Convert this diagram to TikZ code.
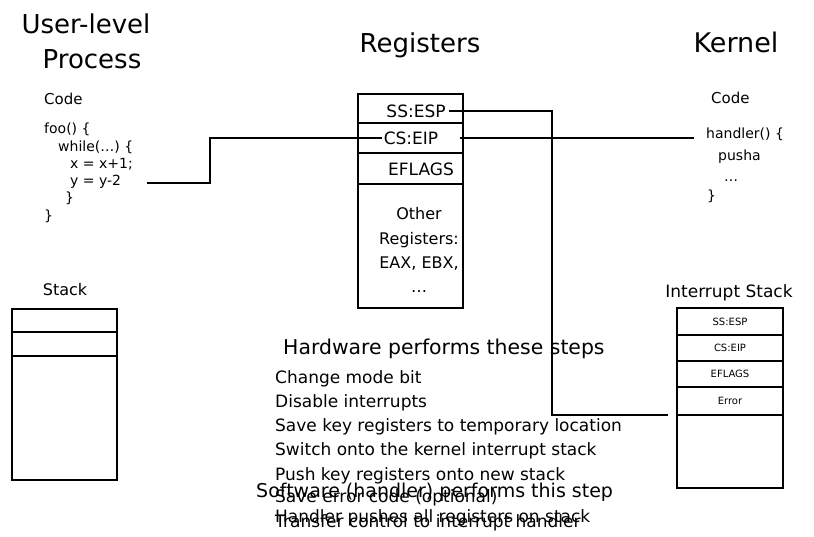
\documentclass[tikz,border=0pt]{standalone}
\usepackage{fontspec}
\setmainfont{DejaVu Sans}
\usetikzlibrary{calc}
\begin{document}
\begin{tikzpicture}[x=1pt,y=-1pt,
  fs/.style={font=\fontsize{#1}{#1}\selectfont},
  lt/.style={anchor=base west, inner sep=0pt, fs=#1},
  ct/.style={anchor=base, inner sep=0pt, fs=#1},
  cell/.style={draw, line width=2pt, inner sep=0pt, outer sep=0pt, anchor=north west},
  wire/.style={line width=1.6pt},
]
\useasboundingbox (0,0) rectangle (814,536);

% titles
\node[ct=26] (t1) at (86,33) {User-level};
\node[ct=26] (t2) at (92,68) {Process};
\node[ct=26] (t3) at (420,52) {Registers};
\node[ct=27] (t4) at (736,52) {Kernel};

% user code
\node[lt=15] (uc) at (44,104) {Code};
\node[lt=14] (u1) at (44,133) {foo() \{};
\node[lt=14] (u2) at (58,151) {while(…) \{};
\node[lt=14] (u3) at (70,168) {x = x+1;};
\node[lt=14] (u4) at (70,185) {y = y-2};
\node[lt=14] (u5) at (65,202) {\}};
\node[lt=14] (u6) at (44,220) {\}};
\coordinate (ustart) at (147,183);

% kernel code
\node[lt=15] (kc) at (711,103) {Code};
\node[lt=14] (kh) at (706,138) {handler() \{};
\node[lt=14] (k2) at (718,160) {pusha};
\node[lt=14] (k3) at (724,181) {…};
\node[lt=14] (k4) at (707,200) {\}};

% registers
\node[cell, minimum width=105pt, minimum height=29pt] (r1) at (358,94) {};
\node[cell, minimum width=105pt, minimum height=30pt] (r2) at (358,123) {};
\node[cell, minimum width=105pt, minimum height=31pt] (r3) at (358,153) {};
\node[cell, minimum width=105pt, minimum height=124pt] (r4) at (358,184) {};
\node[ct=17] (ssl) at (416,117) {SS:ESP};
\node[ct=17] (csl) at (411,144) {CS:EIP};
\node[ct=17] (efl) at (421,175) {EFLAGS};
\node[ct=16] (o1) at (419,219) {Other};
\node[ct=16] (o2) at (419,244) {Registers:};
\node[ct=16] (o3) at (419,268) {EAX, EBX,};
\node[ct=16] (o4) at (419,292) {…};

% user stack
\node[ct=16] (us) at (65,295) {Stack};
\node[cell, minimum width=105pt, minimum height=23pt] (s1) at (12,309) {};
\node[cell, minimum width=105pt, minimum height=24pt] (s2) at (12,332) {};
\node[cell, minimum width=105pt, minimum height=124pt] (s3) at (12,356) {};

% interrupt stack
\node[ct=17] (is) at (729,297) {Interrupt Stack};
\node[cell, minimum width=106pt, minimum height=27pt, fs=10] (i1) at (677,308) {SS:ESP};
\node[cell, minimum width=106pt, minimum height=26pt, fs=10] (i2) at (677,335) {CS:EIP};
\node[cell, minimum width=106pt, minimum height=26pt, fs=10] (i3) at (677,361) {EFLAGS};
\node[cell, minimum width=106pt, minimum height=28pt, fs=10] (i4) at (677,387) {Error};
\node[cell, minimum width=106pt, minimum height=73pt] (i5) at (677,415) {};
\coordinate (errend) at ($(i4.south west)+(-9,0)$);
\coordinate (turn) at (552,0);

% connectors
\draw[wire] (ustart) -- (210,183) |- ($(csl.west)+(-2,0)$);
\draw[wire] ($(csl.east)+(22,0)$) -- ($(csl.east -| kh.west)+(-12,0)$);
\draw[wire] ($(ssl.east)+(3,0)$) -| (turn |- errend) -- (errend);

% steps
\node[lt=20.4] (hw) at (283,354) {Hardware performs these steps};
\node[lt=17] (h1) at (275,383) {Change mode bit};
\node[lt=17] (h2) at (275,407) {Disable interrupts};
\node[lt=17] (h3) at (275,431) {Save key registers to temporary location};
\node[lt=17] (h4) at (275,455) {Switch onto the kernel interrupt stack};
\node[lt=17] (h5) at (275,480) {Push key registers onto new stack};
\node[lt=19] (sw) at (256,497) {Software (handler) performs this step};
\node[lt=17] (h6) at (275,502) {Save error code (optional)};
\node[lt=17] (s7) at (275,522) {Handler pushes all registers on stack};
\node[lt=17] (h7) at (275,527) {Transfer control to interrupt handler};
\end{tikzpicture}
\end{document}
